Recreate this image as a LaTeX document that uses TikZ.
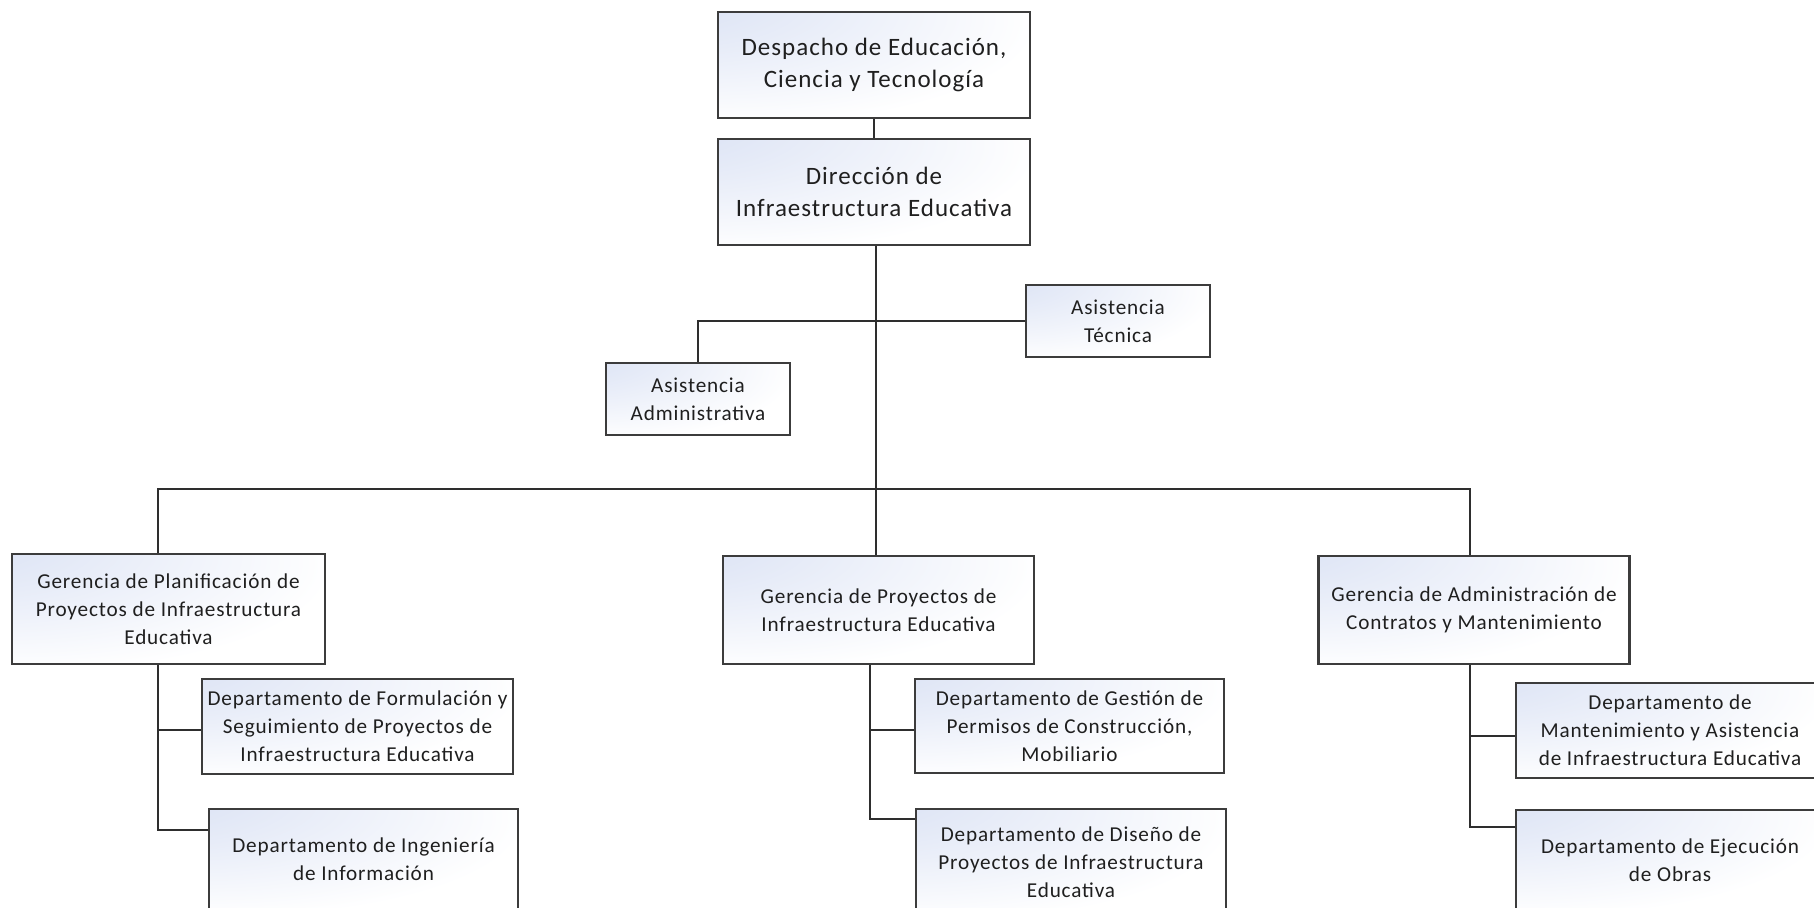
\documentclass[tikz,border=0pt]{standalone}
\usepackage{fontspec}
\setmainfont{Carlito}[LetterSpace=4]
\definecolor{boxline}{HTML}{3C3C3C}
\definecolor{conn}{HTML}{2E2E2E}
\definecolor{boxblue}{HTML}{D3DCF2}
\pgfdeclareradialshading{cornerblue}{\pgfpoint{-42bp}{38bp}}{%
  color(0bp)=(boxblue); color(22bp)=(boxblue!55!white); color(48bp)=(white); color(100bp)=(white)}
\tikzset{
  orgbox/.style={draw=boxline, line width=1.3pt, inner sep=0pt, align=center,
    shading=cornerblue, text=black!88},
  bigtext/.style={font=\fontsize{12.5}{16}\selectfont},
  smalltext/.style={font=\fontsize{10.6}{14}\selectfont},
  link/.style={draw=conn, line width=1pt}
}
\begin{document}
\begin{tikzpicture}[x=0.5pt,y=-0.5pt]
\useasboundingbox (0,0) rectangle (1814,907);
% top
\node[orgbox,bigtext,minimum width=156pt,minimum height=53pt] (desp) at (874,65) {Despacho de Educación,\\Ciencia y Tecnología};
\node[orgbox,bigtext,minimum width=156pt,minimum height=53pt] (dir) at (874,192) {Dirección de\\Infraestructura Educativa};
% assistants
\node[orgbox,smalltext,minimum width=92pt,minimum height=36pt] (tec) at (1118,321) {Asistencia\\Técnica};
\node[orgbox,smalltext,minimum width=92pt,minimum height=36pt] (adm) at (698,399) {Asistencia\\Administrativa};
% gerencias
\node[orgbox,smalltext,minimum width=156.5pt,minimum height=55pt] (gp) at (168.5,609) {Gerencia de Planificación de\\Proyectos de Infraestructura\\Educativa};
\node[orgbox,smalltext,minimum width=155.5pt,minimum height=54pt] (gpy) at (878.5,610) {Gerencia de Proyectos de\\Infraestructura Educativa};
\node[orgbox,smalltext,minimum width=155.5pt,minimum height=54pt] (ga) at (1474,610) {Gerencia de Administración de\\Contratos y Mantenimiento};
% departamentos
\node[orgbox,smalltext,minimum width=155.5pt,minimum height=47.5pt] (df) at (357.5,726.5) {Departamento de Formulación y\\Seguimiento de Proyectos de\\Infraestructura Educativa};
\node[orgbox,smalltext,minimum width=154.5pt,minimum height=50.5pt] (di) at (363.5,859.5) {Departamento de Ingeniería\\de Información};
\node[orgbox,smalltext,minimum width=154.5pt,minimum height=47pt] (dg) at (1069.5,726) {Departamento de Gestión de\\Permisos de Construcción,\\Mobiliario};
\node[orgbox,smalltext,minimum width=155pt,minimum height=53pt] (dd) at (1071,862) {Departamento de Diseño de\\Proyectos de Infraestructura\\Educativa};
\node[orgbox,smalltext,minimum width=154pt,minimum height=47.5pt] (dm) at (1670,730.5) {Departamento de\\Mantenimiento y Asistencia\\de Infraestructura Educativa};
\node[orgbox,smalltext,minimum width=154pt,minimum height=50pt] (de) at (1670,860) {Departamento de Ejecución\\de Obras};
% coordinates
\coordinate (gpx) at (158,489);
\coordinate (mx) at (876,489);
\coordinate (gyx) at (870,0);
\coordinate (gax) at (1470,0);
% connectors
\draw[link] (desp.south) -- (dir.south |- dir.north);
\draw[link] (mx |- dir.south) -- (mx |- gpy.north);
\draw[link] (tec.west) -| (adm.north);
\draw[link] (gpx |- gp.north) -- (gpx) -- (gax |- gpx) -- (gax |- ga.north);
% branches
\coordinate (s1) at (df.west |- 0,730);
\coordinate (s2) at (di.west |- 0,830);
\draw[link] (gpx |- gp.south) -- (gpx |- s2) -- (s2);
\draw[link] (gpx |- s1) -- (s1);
\coordinate (t1) at (dg.west |- 0,730);
\coordinate (t2) at (dd.west |- 0,819);
\draw[link] (gyx |- gpy.south) -- (gyx |- t2) -- (t2);
\draw[link] (gyx |- t1) -- (t1);
\coordinate (u1) at (dm.west |- 0,736);
\coordinate (u2) at (de.west |- 0,827);
\draw[link] (gax |- ga.south) -- (gax |- u2) -- (u2);
\draw[link] (gax |- u1) -- (u1);
\end{tikzpicture}
\end{document}
